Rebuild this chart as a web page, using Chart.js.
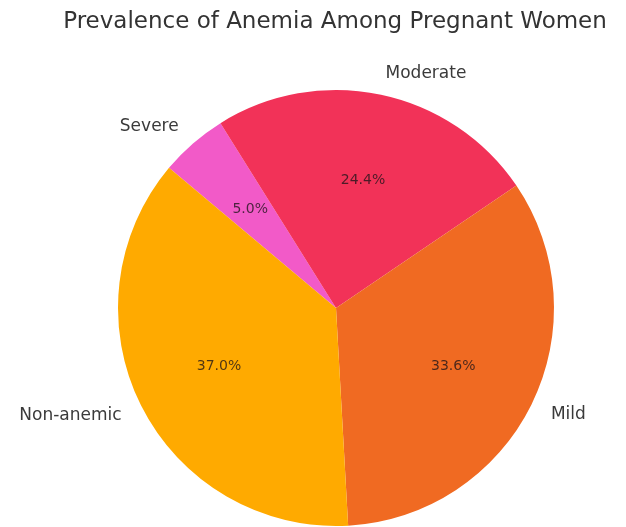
<!DOCTYPE html>
<html>
<head>
<meta charset="utf-8">
<script src="https://cdn.jsdelivr.net/npm/chart.js@4"></script>
<style>
  html, body { margin: 0; padding: 0; background: #fff; }
  #wrap { width: 626px; height: 527px; }
</style>
</head>
<body>
<div id="wrap"><canvas id="anemia_pie"></canvas></div>
<script>
// data, counterclockwise as in the source (start at 140deg)
const categories = ["Non-anemic", "Mild", "Moderate", "Severe"];
const shares = [37.0, 33.6, 24.4, 5.0];
const sliceColors = ["#FFAA00", "#F06A22", "#F23258", "#F25AC8"];

// chart.js goes clockwise, so feed it reversed
const labelsCw = categories.slice().reverse();
const valuesCw = shares.slice().reverse();
const colorsCw = sliceColors.slice().reverse();

const FONT = "'DejaVu Sans', sans-serif";

// title + outside labels + percentages, placed like matplotlib (1.1r / 0.6r)
const pieText = {
    id: "pieText",
    afterDatasetsDraw(chart) {
        const ctx = chart.ctx;
        const meta = chart.getDatasetMeta(0);
        const total = valuesCw.reduce((a, b) => a + b, 0);
        ctx.save();

        ctx.font = "23px " + FONT;
        ctx.fillStyle = "#333";
        ctx.textAlign = "center";
        ctx.textBaseline = "middle";
        ctx.fillText("Prevalence of Anemia Among Pregnant Women", 335, 22);

        meta.data.forEach((arc, i) => {
            const mid = (arc.startAngle + arc.endAngle) / 2;
            const r = arc.outerRadius;
            const c = Math.cos(mid), s = Math.sin(mid);

            ctx.font = "17px " + FONT;
            ctx.fillStyle = "#3a3a3a";
            ctx.textBaseline = "middle";
            ctx.textAlign = c > 0 ? "left" : "right";
            ctx.fillText(labelsCw[i], arc.x + c * r * 1.1, arc.y + s * r * 1.1);

            ctx.font = "14px " + FONT;
            ctx.fillStyle = "rgba(30,20,25,0.78)";
            ctx.textAlign = "center";
            const pct = (valuesCw[i] / total * 100).toFixed(1) + "%";
            ctx.fillText(pct, arc.x + c * r * 0.6, arc.y + s * r * 0.6);
        });
        ctx.restore();
    }
};

new Chart(document.getElementById("anemia_pie"), {
    type: "pie",
    data: {
        labels: labelsCw,
        datasets: [{
            data: valuesCw,
            backgroundColor: colorsCw,
            borderWidth: 0
        }]
    },
    options: {
        responsive: true,
        maintainAspectRatio: false,
        animation: false,
        rotation: -50,
        layout: { padding: { top: 90, bottom: 1, left: 118, right: 72 } },
        plugins: {
            legend: { display: false },
            tooltip: { enabled: false },
            title: { display: false }
        }
    },
    plugins: [pieText]
});
</script>
</body>
</html>
